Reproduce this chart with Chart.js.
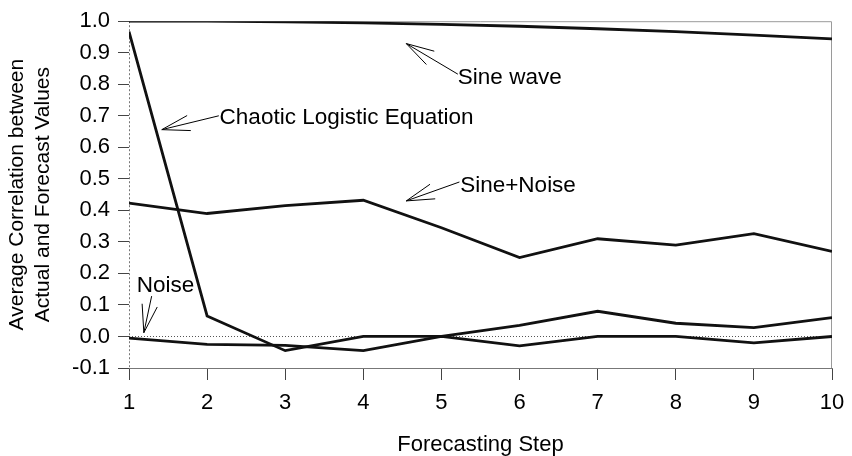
<!DOCTYPE html>
<html>
<head>
<meta charset="utf-8">
<script src="https://cdn.jsdelivr.net/npm/chart.js@4/dist/chart.umd.min.js"></script>
<style>
  html, body { margin:0; padding:0; background:#fff; }
  #wrap { width:852px; height:456px; }
</style>
</head>
<body>
<div id="wrap"><canvas id="corrChart" width="852" height="456"></canvas></div>
<script>
// Forecasting steps and correlation series
const steps = [1, 2, 3, 4, 5, 6, 7, 8, 9, 10];
const sineWave = [1.0, 1.0, 0.998, 0.995, 0.99, 0.984, 0.976, 0.967, 0.956, 0.944];
const sineNoise = [0.423, 0.39, 0.415, 0.432, 0.345, 0.25, 0.31, 0.29, 0.326, 0.27];
const chaotic = [0.967, 0.065, -0.045, 0.0, 0.0, 0.035, 0.08, 0.042, 0.028, 0.06];
const noise = [-0.005, -0.025, -0.028, -0.045, 0.0, -0.03, 0.0, 0.0, -0.02, 0.0];

// Callout labels: text position and arrow tail/tip, in data units
const callouts = [
  {text:'Sine wave', tx:5.21, ty:0.82, tail:[5.21, 0.832], tip:[4.55, 0.929]},
  {text:'Chaotic Logistic Equation', tx:2.16, ty:0.693, tail:[2.15, 0.70], tip:[1.42, 0.656]},
  {text:'Sine+Noise', tx:5.24, ty:0.477, tail:[5.23, 0.49], tip:[4.55, 0.43]},
  {text:'Noise', tx:1.10, ty:0.16, tail:[1.29, 0.128], tip:[1.19, 0.012]}
];

const FONT = '"Liberation Sans", Arial, sans-serif';
const toPts = arr => arr.map((v, i) => ({x: steps[i], y: v}));

function series(label, values){
  return {
    label: label,
    data: toPts(values),
    borderColor: '#111',
    borderWidth: 2.8,
    pointRadius: 0,
    tension: 0,
    fill: false
  };
}

// frame, dotted zero line and arrow callouts
const decorations = {
  id: 'decorations',
  beforeDatasetsDraw(chart){
    const {ctx, chartArea: a, scales: {y}} = chart;
    ctx.save();
    ctx.lineWidth = 1;
    ctx.strokeStyle = '#9a9a9a';
    ctx.beginPath();
    ctx.moveTo(a.left, a.top + 0.5);
    ctx.lineTo(a.right - 0.5, a.top + 0.5);
    ctx.lineTo(a.right - 0.5, a.bottom);
    ctx.stroke();
    // left axis, dotted
    ctx.setLineDash([2, 2]);
    ctx.strokeStyle = '#777';
    ctx.beginPath();
    ctx.moveTo(a.left + 0.5, a.top);
    ctx.lineTo(a.left + 0.5, a.bottom);
    ctx.stroke();
    // zero line
    const y0 = Math.round(y.getPixelForValue(0)) + 0.5;
    ctx.setLineDash([1, 2]);
    ctx.strokeStyle = '#555';
    ctx.beginPath();
    ctx.moveTo(a.left, y0);
    ctx.lineTo(a.right, y0);
    ctx.stroke();
    ctx.restore();
  },
  afterDatasetsDraw(chart){
    const {ctx, scales: {x, y}} = chart;
    ctx.save();
    ctx.strokeStyle = '#000';
    ctx.fillStyle = '#000';
    ctx.lineWidth = 1;
    ctx.font = '22.5px ' + FONT;
    ctx.textBaseline = 'middle';
    ctx.textAlign = 'left';
    callouts.forEach(c => {
      const x1 = x.getPixelForValue(c.tail[0]), y1 = y.getPixelForValue(c.tail[1]);
      const x2 = x.getPixelForValue(c.tip[0]), y2 = y.getPixelForValue(c.tip[1]);
      const ang = Math.atan2(y1 - y2, x1 - x2);
      const len = 29, spread = 0.27;
      ctx.beginPath();
      ctx.moveTo(x1, y1);
      ctx.lineTo(x2, y2);
      ctx.moveTo(x2 + len * Math.cos(ang - spread), y2 + len * Math.sin(ang - spread));
      ctx.lineTo(x2, y2);
      ctx.lineTo(x2 + len * Math.cos(ang + spread), y2 + len * Math.sin(ang + spread));
      ctx.stroke();
      ctx.fillText(c.text, x.getPixelForValue(c.tx), y.getPixelForValue(c.ty));
    });
    ctx.restore();
  }
};

const ctx = document.getElementById('corrChart').getContext('2d');
new Chart(ctx, {
  type: 'line',
  data: {
    datasets: [
      series('Sine wave', sineWave),
      series('Sine+Noise', sineNoise),
      series('Chaotic Logistic Equation', chaotic),
      series('Noise', noise)
    ]
  },
  options: {
    responsive: false,
    animation: false,
    layout: { padding: {left:0, top:17, right:20, bottom:0} },
    plugins: { legend: {display:false}, tooltip: {enabled:false} },
    scales: {
      x: {
        type: 'linear',
        min: 1, max: 10,
        afterFit: s => { s.height = 88; s.paddingRight = 0; s.paddingLeft = 0; },
        ticks: { stepSize:1, color:'#000', padding:10, font:{family:FONT, size:22} },
        grid: { drawOnChartArea:false, drawTicks:true, tickLength:12, tickColor:'#444', color:'#444' },
        border: { display:true, color:'#777', width:1 },
        title: { display:true, text:'Forecasting Step', color:'#000',
                 font:{family:FONT, size:22}, padding:{top:0, bottom:-2} }
      },
      y: {
        min: -0.1, max: 1.0,
        afterFit: s => { s.width = 129; },
        ticks: { stepSize:0.1, color:'#000', padding:8, font:{family:FONT, size:22},
                 callback: v => Number(v).toFixed(1) },
        grid: { drawOnChartArea:false, drawTicks:true, tickLength:11, tickColor:'#444', color:'#444' },
        border: { display:false },
        title: { display:true, text:['Average Correlation between', 'Actual and Forecast Values'],
                 color:'#000', font:{family:FONT, size:21}, padding:{top:5, bottom:0} }
      }
    }
  },
  plugins: [decorations]
});
</script>
</body>
</html>
